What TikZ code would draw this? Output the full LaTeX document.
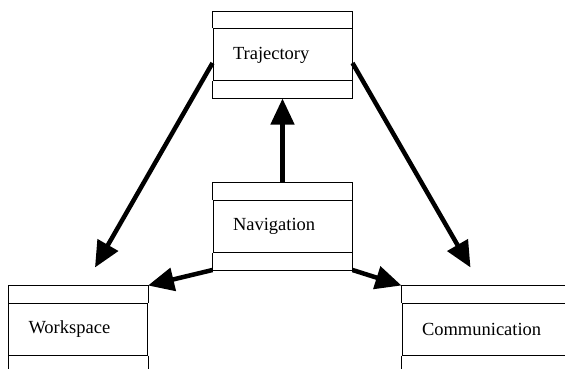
\documentclass[tikz,border=0pt]{standalone}
\usepackage{fontspec}
\setmainfont{Liberation Serif}
\usetikzlibrary{arrows.meta, calc}

\begin{document}
\begin{tikzpicture}[x=1pt, y=-1pt,
    cls/.style={draw, line width=1pt, minimum height=52pt, inner xsep=20pt, inner ysep=0pt, text width=99pt, align=left, font=\fontsize{18.5}{21}\selectfont},
    part/.style={line width=1pt},
    link/.style={-{Triangle[length=26pt, width=23pt]}, line width=4.5pt}
  ]
  \clip (0,0) rectangle (565,369);

  % classes
  \node[cls] (traj) at (282.5,55) {Trajectory};
  \node[cls] (nav) at (282.5,226.5) {Navigation};
  \node[cls] (ws) at (78,329) {Workspace};
  \node[cls, text width=135pt] (comm) at (489.5,329) {Communication};

  % compartments
  \draw[part] (traj.north west) -- ++(0,-17) -| (traj.north east);
  \draw[part] (traj.south west) -- ++(0,17) -| (traj.south east);
  \draw[part] (nav.north west) -- ++(0,-18) -| (nav.north east);
  \draw[part] (nav.south west) -- ++(0,17) -| (nav.south east);
  \draw[part] (ws.north west) -- ++(0,-17) -| (ws.north east);
  \draw[part] (ws.south west) -- ++(0,30) (ws.south east) -- ++(0,30);
  \draw[part] (comm.north west) -- ++(0,-17) -| (comm.north east);
  \draw[part] (comm.south west) -- ++(0,30) (comm.south east) -- ++(0,30);

  % associations
  \draw[link] ([yshift=-8pt]traj.west) -- ($(ws.north)+(17,-35)$);
  \draw[link] ([yshift=-8pt]traj.east) -- ($(comm.north west)+(69,-35)$);
  \draw[link] ($(nav.north)+(0,-18)$) -- ($(traj.south)+(0,17)$);
  \draw[link] ($(nav.south west)+(0,17)$) -- ($(ws.north east)+(0,-17)$);
  \draw[link] ($(nav.south east)+(0,17)$) -- ($(comm.north west)+(0,-17)$);
\end{tikzpicture}
\end{document}
